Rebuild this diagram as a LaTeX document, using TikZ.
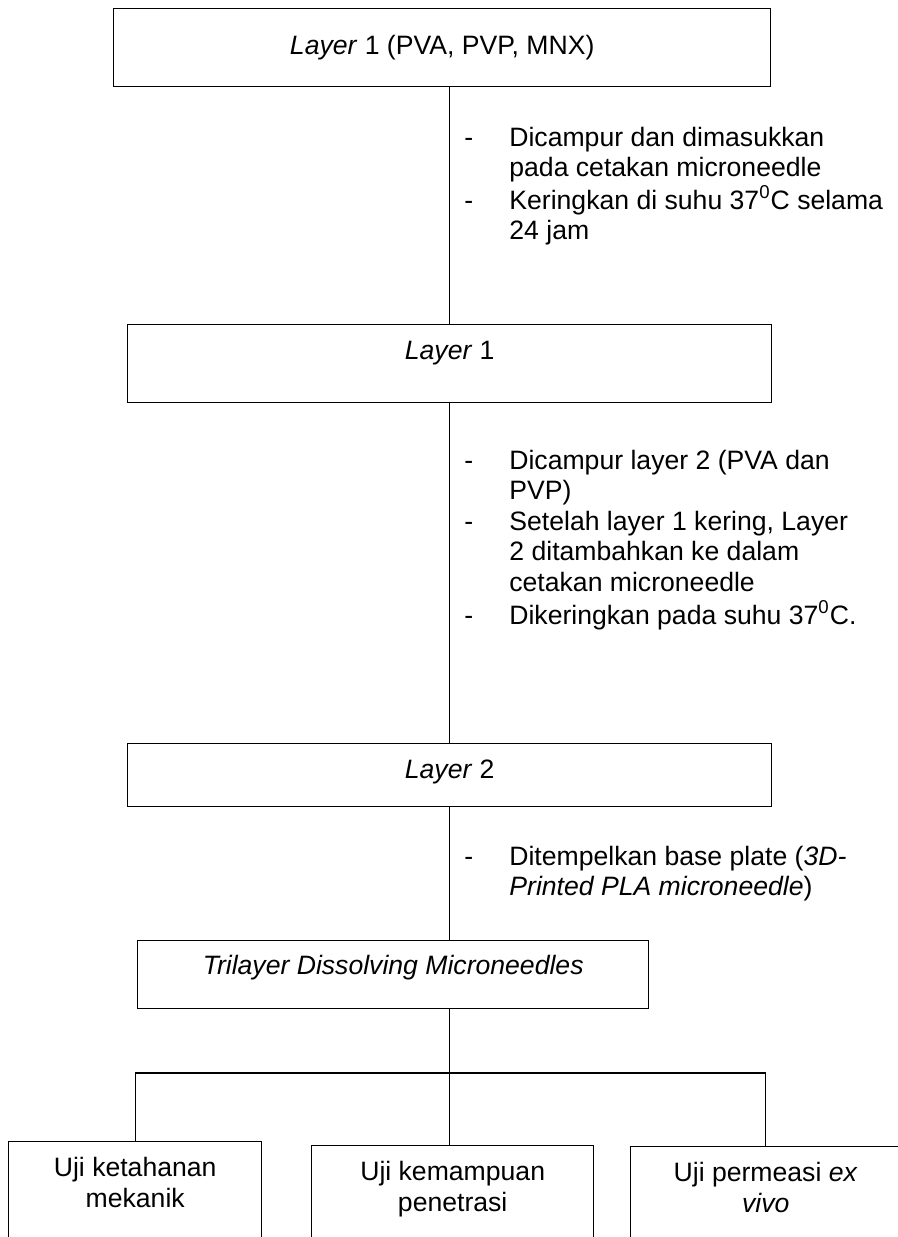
\documentclass[tikz,border=0pt]{standalone}
\usepackage{fontspec}
\setmainfont{Liberation Sans}
\usetikzlibrary{positioning, calc}

\tikzset{
  box/.style={draw, line width=0.7pt, anchor=north west, inner xsep=0pt, inner ysep=0pt},
  note/.style={anchor=base west, inner sep=0pt, align=left},
  link/.style={line width=0.7pt}
}
\newcommand{\dashitem}{\begin{tabular}[t]{@{}p{22.5pt}@{}l@{}}}
\newcommand{\twolines}[2]{\begin{tabular}[t]{@{}c@{}}#1\\#2\end{tabular}}

\begin{document}
\begin{tikzpicture}[x=0.5pt, y=-0.5pt, font=\fontsize{13.3}{15.3}\selectfont]
\useasboundingbox (0,0) rectangle (898,1237);
\clip (0,0) rectangle (898,1237);
\fill[white] (0,0) rectangle (898,1237);

% boxes
\node[box, minimum width=328.5pt, text height=23pt, text depth=16pt] (lay1mix) at (113,8) {\textit{Layer} 1 (PVA, PVP, MNX)};
\node[box, minimum width=322pt, text height=17.5pt, text depth=21.5pt] (lay1) at (127,324) {\textit{Layer} 1};
\node[box, minimum width=322pt, text height=17.5pt, text depth=14pt] (lay2) at (127,743) {\textit{Layer} 2};
\node[box, minimum width=255.5pt, text height=17pt, text depth=17pt] (tri) at (137,940) {\textit{Trilayer Dissolving Microneedles}};
\node[box, minimum width=126.5pt, text height=17.5pt, text depth=60pt] (mek) at (8,1141) {\twolines{Uji ketahanan}{mekanik}};
\node[box, minimum width=141pt, text height=17.5pt, text depth=60pt] (pen) at (311,1145) {\twolines{Uji kemampuan}{penetrasi}};
\node[box, minimum width=135pt, text height=17.5pt, text depth=60pt] (perm) at (630,1146) {\twolines{Uji permeasi \textit{ex}}{\textit{vivo}}};
\coordinate (bus) at (0,1073);

% notes
\node[note] (step1) at (464,146) {\dashitem
- & Dicampur dan dimasukkan\\
  & pada cetakan microneedle\\
- & Keringkan di suhu 37\textsuperscript{0}C selama\\
  & 24 jam
\end{tabular}};
\node[note] (step2) at (464,469) {\dashitem
- & Dicampur layer 2 (PVA dan\\
  & PVP)\\
- & Setelah layer 1 kering, Layer\\
  & 2 ditambahkan ke dalam\\
  & cetakan microneedle\\
- & Dikeringkan pada suhu 37\textsuperscript{0}C.
\end{tabular}};
\node[note] (step3) at (464,865) {\dashitem
- & Ditempelkan base plate (\textit{3D-}\\
  & \textit{Printed PLA microneedle})
\end{tabular}};

% connectors
\draw[link] (lay1.north |- lay1mix.south) -- (lay1.north);
\draw[link] (lay1.south) -- (lay2.north);
\draw[link] (lay2.south) -- (lay2.south |- tri.north);
\draw[link] (lay2.south |- tri.south) -- (lay2.south |- bus);
\draw[link] (mek.north |- bus) -- (perm.north |- bus);
\draw[link] (mek.north |- bus) -- (mek.north);
\draw[link] (lay2.south |- bus) -- (lay2.south |- pen.north);
\draw[link] (perm.north |- bus) -- (perm.north);
\end{tikzpicture}
\end{document}
